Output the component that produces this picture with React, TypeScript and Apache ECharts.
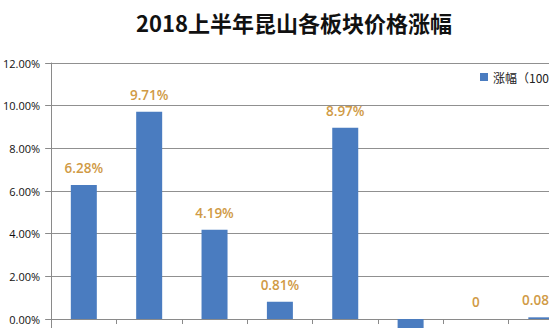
import React, { useEffect, useRef } from "react";
import * as echarts from "echarts";

const titleText = "2018上半年昆山各板块价格涨幅";
const seriesName = "涨幅（100%）";
const categories = ["城北", "城南", "开发区", "高新区", "花桥", "周市", "陆家", "巴城"];
const growth = [6.28, 9.71, 4.19, 0.81, 8.97, -1.18, 0, 0.08];
const yMin = -2;
const yMax = 12;
const yStep = 2;

export default function App() {
  const ref = useRef<HTMLDivElement>(null);
  useEffect(() => {
    if (!ref.current) return;
    const chart = echarts.init(ref.current, undefined, { renderer: "svg" });
    const fmt = (v: number) => (v === 0 ? "0" : v.toFixed(2) + "%");
    chart.setOption({
      animation: false,
      backgroundColor: "#ffffff",
      title: {
        text: titleText,
        left: 131,
        top: 6,
        textStyle: {
          fontFamily: "Noto Sans CJK SC",
          fontSize: 22,
          fontWeight: "bold",
          color: "#111111",
        },
      },
      legend: {
        left: 480,
        top: 71,
        padding: 0,
        itemWidth: 8,
        itemHeight: 8,
        itemGap: 6,
        icon: "rect",
        textStyle: { fontFamily: "Noto Sans CJK SC", fontSize: 12, color: "#222" },
        data: [seriesName],
      },
      grid: { left: 46, top: 63, width: 528, height: 298.7 },
      xAxis: {
        type: "category",
        data: categories,
        axisLine: { onZero: true, lineStyle: { color: "#8a8a8a", width: 1 } },
        axisTick: { show: true, length: 5, lineStyle: { color: "#8a8a8a" } },
        axisLabel: { show: false },
        splitLine: { show: false },
      },
      yAxis: {
        type: "value",
        min: yMin,
        max: yMax,
        interval: yStep,
        axisLine: { show: true, lineStyle: { color: "#8a8a8a", width: 1 } },
        axisTick: { show: true, length: 6, lineStyle: { color: "#8a8a8a" } },
        axisLabel: {
          margin: 11,
          fontFamily: "Open Sans",
          fontSize: 11,
          color: "#111",
          formatter: (v: number) => v.toFixed(2) + "%",
        },
        splitLine: { lineStyle: { color: "#909090", width: 1 } },
      },
      series: [
        {
          name: seriesName,
          type: "bar",
          barWidth: 26,
          itemStyle: { color: "#4a7cc0" },
          label: {
            show: true,
            position: "top",
            distance: 10,
            fontFamily: "Open Sans",
            fontSize: 13.5,
            fontWeight: 600,
            color: "#d09a45",
            formatter: (p: any) => fmt(p.value),
          },
          data: growth.map((v) =>
            v < 0 ? { value: v, label: { position: "bottom" } } : v
          ),
        },
      ],
    });
    return () => chart.dispose();
  }, []);
  return (
    <div
      style={{
        position: "absolute",
        left: 0,
        top: 0,
        width: 549,
        height: 328,
        overflow: "hidden",
        background: "#fff",
      }}
    >
      <div ref={ref} style={{ width: 640, height: 380 }} />
    </div>
  );
}
